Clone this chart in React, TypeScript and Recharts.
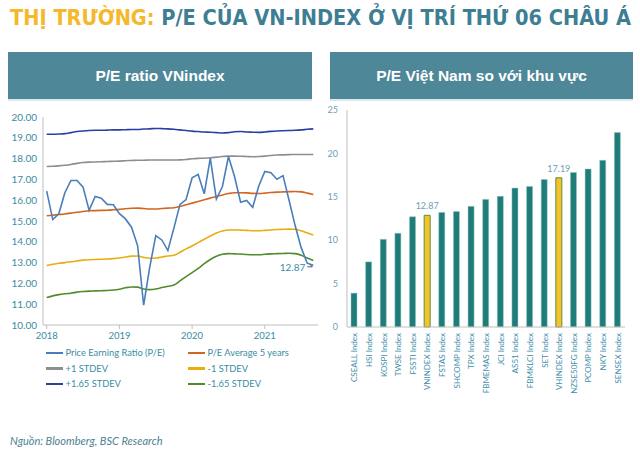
import React from 'react';
import { LineChart, Line, XAxis, YAxis, BarChart, Bar, Cell, LabelList } from 'recharts';

// ---------- Left chart data (monthly, Jan 2018 - Sep 2021) ----------
const months = [
  '2018-01','2018-02','2018-03','2018-04','2018-05','2018-06','2018-07','2018-08','2018-09','2018-10','2018-11','2018-12',
  '2019-01','2019-02','2019-03','2019-04','2019-05','2019-06','2019-07','2019-08','2019-09','2019-10','2019-11','2019-12',
  '2020-01','2020-02','2020-03','2020-04','2020-05','2020-06','2020-07','2020-08','2020-09','2020-10','2020-11','2020-12',
  '2021-01','2021-02','2021-03','2021-04','2021-05','2021-06','2021-07','2021-08','2021-09',
];
const yearTicks = ['2018-01', '2019-01', '2020-01', '2021-01'];
const yearLabels = ['2018', '2019', '2020', '2021'];
const yTicksLeft = [10, 11, 12, 13, 14, 15, 16, 17, 18, 19, 20];

const peRatio = [
  16.44, 15.07, 15.35, 16.36, 16.95, 16.95, 16.63, 15.51, 16.18, 16.10, 15.80, 15.78,
  15.35, 15.10, 14.70, 13.82, 10.95, 12.77, 14.30, 14.09, 13.58, 14.67, 15.80, 16.03,
  17.08, 17.24, 16.31, 18.02, 16.05, 16.66, 18.10, 17.14, 15.90, 15.99, 15.66, 16.68,
  17.38, 17.32, 17.01, 17.18, 16.00, 14.78, 13.72, 12.97, 12.87,
];
const avg5y = [
  15.25, 15.28, 15.31, 15.34, 15.38, 15.42, 15.46, 15.49, 15.50, 15.51, 15.52, 15.54,
  15.56, 15.59, 15.61, 15.62, 15.60, 15.58, 15.58, 15.60, 15.62, 15.64, 15.70, 15.78,
  15.86, 15.94, 16.02, 16.10, 16.18, 16.25, 16.32, 16.36, 16.36, 16.35, 16.33, 16.32,
  16.34, 16.37, 16.39, 16.40, 16.41, 16.42, 16.40, 16.34, 16.27,
];
const plus1 = [
  17.62, 17.63, 17.65, 17.68, 17.72, 17.77, 17.81, 17.83, 17.84, 17.85, 17.86, 17.87,
  17.88, 17.90, 17.91, 17.92, 17.92, 17.93, 17.93, 17.93, 17.93, 17.93, 17.94, 17.96,
  17.99, 18.01, 18.02, 18.04, 18.07, 18.10, 18.12, 18.12, 18.11, 18.10, 18.09, 18.10,
  18.12, 18.15, 18.17, 18.18, 18.19, 18.20, 18.20, 18.20, 18.20,
];
const minus1 = [
  12.86, 12.92, 12.97, 13.00, 13.04, 13.08, 13.12, 13.14, 13.15, 13.16, 13.17, 13.19,
  13.22, 13.27, 13.31, 13.32, 13.25, 13.21, 13.22, 13.27, 13.32, 13.35, 13.50, 13.66,
  13.80, 13.96, 14.12, 14.28, 14.42, 14.52, 14.57, 14.57, 14.56, 14.55, 14.53, 14.53,
  14.55, 14.57, 14.59, 14.60, 14.61, 14.60, 14.53, 14.43, 14.33,
];
const plus165 = [
  19.17, 19.17, 19.18, 19.20, 19.25, 19.30, 19.33, 19.35, 19.36, 19.36, 19.37, 19.38,
  19.38, 19.39, 19.40, 19.40, 19.42, 19.43, 19.45, 19.44, 19.43, 19.41, 19.38, 19.35,
  19.32, 19.30, 19.28, 19.27, 19.25, 19.23, 19.25, 19.29, 19.30, 19.28, 19.27, 19.26,
  19.28, 19.31, 19.33, 19.34, 19.35, 19.36, 19.38, 19.41, 19.43,
];
const minus165 = [
  11.32, 11.40, 11.46, 11.50, 11.53, 11.58, 11.61, 11.63, 11.64, 11.65, 11.66, 11.68,
  11.72, 11.79, 11.83, 11.82, 11.73, 11.70, 11.73, 11.80, 11.86, 11.92, 12.12, 12.33,
  12.52, 12.72, 12.95, 13.15, 13.30, 13.40, 13.43, 13.42, 13.41, 13.39, 13.38, 13.38,
  13.40, 13.42, 13.43, 13.44, 13.45, 13.43, 13.35, 13.22, 13.10,
];

const seriesNames = {
  pe: 'Price Earning Ratio (P/E)',
  avg: 'P/E Average 5 years',
  p1: '+1 STDEV',
  m1: '-1 STDEV',
  p165: '+1.65 STDEV',
  m165: '-1.65 STDEV',
};
const legendOrder = ['pe', 'avg', 'p1', 'm1', 'p165', 'm165'];

// ---------- Right chart data ----------
const indexNames = [
  'CSEALL Index', 'HSI Index', 'KOSPI Index', 'TWSE Index', 'FSSTI Index', 'VNINDEX Index',
  'FSTAS Index', 'SHCOMP Index', 'TPX Index', 'FBMEMAS Index', 'JCI Index', 'AS51 Index',
  'FBMKLCI Index', 'SET Index', 'VHINDEX Index', 'NZSE50FG Index', 'PCOMP Index', 'NKY Index', 'SENSEX Index',
];
const indexPE = [
  3.9, 7.5, 10.1, 10.8, 12.7, 12.87, 13.2, 13.3, 13.9, 14.7, 15.05, 16.0,
  16.2, 17.0, 17.19, 17.8, 18.2, 19.2, 22.4,
];
const highlighted = ['VNINDEX Index', 'VHINDEX Index'];
const yTicksRight = [0, 5, 10, 15, 20, 25];

// ---------- Styles ----------
const COLORS: Record<string, string> = {
  pe: '#4A7EBB',
  avg: '#D2661F',
  p1: '#8E8E8E',
  m1: '#E7AE10',
  p165: '#2B3FA3',
  m165: '#4E8C2C',
};
const TEAL_TEXT = '#3A8CA3';
const AXIS_TEXT_R = '#6F9DB8';
const FONT = 'Lato, "Open Sans", sans-serif';

const lineData = months.map((m, i) => ({
  month: m,
  pe: peRatio[i],
  avg: avg5y[i],
  p1: plus1[i],
  m1: minus1[i],
  p165: plus165[i],
  m165: minus165[i],
}));

const barData = indexNames.map((n, i) => ({ name: n, pe: indexPE[i] }));

const EndLabel = (props: any) => {
  const { x, y, index } = props;
  if (index !== months.length - 1) return null;
  return (
    <g>
      <text x={x - 8} y={y + 6} textAnchor="end" fontSize={10} fontFamily={FONT} fill={TEAL_TEXT}>
        {peRatio[index].toFixed(2)}
      </text>
      <line x1={x - 6} y1={y + 1.5} x2={x - 1} y2={y + 1.5} stroke="#333" strokeWidth={0.8} />
      <path d={`M${x - 3},${y - 0.5} L${x - 1},${y + 1.5}`} stroke="#333" strokeWidth={0.8} fill="none" />
    </g>
  );
};

const RotTick = (props: any) => {
  const { x, y, payload } = props;
  return (
    <text
      x={0}
      y={0}
      transform={`translate(${x + 3},${y}) rotate(-90)`}
      textAnchor="end"
      fontSize={8}
      fontFamily={FONT}
      fill="#3F8FAA"
    >
      {payload.value}
    </text>
  );
};

const BarValueLabel = (props: any) => {
  const { x, y, width, value, index } = props;
  if (!highlighted.includes(indexNames[index])) return null;
  return (
    <text x={x + width / 2} y={y - 6} textAnchor="middle" fontSize={9} fontFamily={FONT} fill={AXIS_TEXT_R}>
      {Number(value).toFixed(2)}
    </text>
  );
};

export default function App() {
  return (
    <div
      style={{
        position: 'fixed',
        left: 0,
        top: 0,
        width: 640,
        height: 463,
        background: '#fff',
        fontFamily: FONT,
        overflow: 'hidden',
      }}
    >
      {/* Title */}
      <svg width={640} height={40} style={{ position: 'absolute', left: 0, top: 0 }}>
        <text
          x={10}
          y={25}
          fontSize={22}
          fontWeight="bold"
          fontFamily='"Liberation Sans Narrow", "DejaVu Sans Condensed", "Arial Narrow", sans-serif'
          textLength={621}
          lengthAdjust="spacingAndGlyphs"
        >
          <tspan fill="#F5B82A">THỊ TRƯỜNG: </tspan>
          <tspan fill="#3D7E93">P/E CỦA VN-INDEX Ở VỊ TRÍ THỨ 06 CHÂU Á</tspan>
        </text>
      </svg>

      {/* Header boxes */}
      {[
        { left: 8, width: 304, text: 'P/E ratio VNindex' },
        { left: 330, width: 303, text: 'P/E Việt Nam so với khu vực' },
      ].map((b) => (
        <div key={b.text}>
          <div
            style={{
              position: 'absolute',
              left: b.left,
              top: 52,
              width: b.width,
              height: 47,
              background: '#4E8898',
              color: '#fff',
              fontFamily: '"Liberation Sans", Arial, sans-serif',
              fontWeight: 'bold',
              fontSize: 15.5,
              display: 'flex',
              alignItems: 'center',
              justifyContent: 'center',
            }}
          >
            {b.text}
          </div>
          <div
            style={{ position: 'absolute', left: b.left, top: 99, width: b.width, height: 2, background: '#DCEAF0' }}
          />
        </div>
      ))}

      {/* Left line chart */}
      <div style={{ position: 'absolute', left: 0, top: 105 }}>
        <LineChart width={330} height={240} data={lineData} margin={{ top: 12, right: 12, bottom: 0, left: 0 }}>
          <XAxis
            dataKey="month"
            scale="point"
            padding={{ left: 3.7, right: 4.7 }}
            ticks={yearTicks}
            tickFormatter={(v: string) => yearLabels[yearTicks.indexOf(v)]}
            interval={0}
            height={20}
            tick={{ fontSize: 9.5, fill: TEAL_TEXT, fontFamily: FONT }}
            axisLine={{ stroke: '#BFBFBF' }}
            tickLine={{ stroke: '#BFBFBF' }}
            tickSize={4}
            tickMargin={3}
          />
          <YAxis
            domain={[10, 20]}
            ticks={yTicksLeft}
            interval={0}
            width={43}
            tickFormatter={(v: number) => v.toFixed(2)}
            tick={{ fontSize: 10, fill: TEAL_TEXT, fontFamily: FONT }}
            axisLine={{ stroke: '#BFBFBF' }}
            tickLine={false}
            tickSize={4}
            tickMargin={2}
          />
          <Line dataKey="p165" type="monotone" stroke={COLORS.p165} strokeWidth={1.6} dot={false} isAnimationActive={false} />
          <Line dataKey="p1" type="monotone" stroke={COLORS.p1} strokeWidth={1.6} dot={false} isAnimationActive={false} />
          <Line dataKey="avg" type="monotone" stroke={COLORS.avg} strokeWidth={1.6} dot={false} isAnimationActive={false} />
          <Line dataKey="m1" type="monotone" stroke={COLORS.m1} strokeWidth={1.6} dot={false} isAnimationActive={false} />
          <Line dataKey="m165" type="monotone" stroke={COLORS.m165} strokeWidth={1.6} dot={false} isAnimationActive={false} />
          <Line
            dataKey="pe"
            type="linear"
            stroke={COLORS.pe}
            strokeWidth={1.6}
            dot={false}
            isAnimationActive={false}
            label={<EndLabel />}
          />
        </LineChart>
      </div>

      {/* Left legend */}
      <div style={{ position: 'absolute', left: 46, top: 345, width: 290 }}>
        {[0, 1, 2].map((row) => (
          <div key={row} style={{ display: 'flex', height: 15.5 }}>
            {legendOrder.slice(row * 2, row * 2 + 2).map((k) => (
              <div key={k} style={{ width: 142, display: 'flex', alignItems: 'center' }}>
                <span
                  style={{ display: 'inline-block', width: 17, height: 2.5, background: COLORS[k], marginRight: 2.5 }}
                />
                <span style={{ fontSize: 9.3, color: TEAL_TEXT, fontFamily: FONT, whiteSpace: 'nowrap' }}>
                  {(seriesNames as any)[k]}
                </span>
              </div>
            ))}
          </div>
        ))}
      </div>

      {/* Right bar chart */}
      <div style={{ position: 'absolute', left: 320, top: 100 }}>
        <BarChart width={320} height={322} data={barData} margin={{ top: 10, right: 15, bottom: 0, left: 0 }}>
          <XAxis
            dataKey="name"
            interval={0}
            height={95}
            tick={<RotTick />}
            axisLine={{ stroke: '#BFBFBF' }}
            tickLine={false}
            tickSize={0}
            tickMargin={6}
          />
          <YAxis
            domain={[0, 25]}
            ticks={yTicksRight}
            interval={0}
            width={27}
            tick={{ fontSize: 9, fill: AXIS_TEXT_R, fontFamily: FONT }}
            axisLine={{ stroke: '#BFBFBF' }}
            tickLine={false}
            tickSize={5}
            tickMargin={4}
          />
          <Bar dataKey="pe" barSize={6} isAnimationActive={false}>
            {barData.map((d) => (
              <Cell
                key={d.name}
                fill={highlighted.includes(d.name) ? '#F5C22B' : '#1F7C79'}
                stroke={highlighted.includes(d.name) ? '#5B8F3B' : '#8FC4C0'}
                strokeWidth={highlighted.includes(d.name) ? 1 : 0.5}
              />
            ))}
            <LabelList dataKey="pe" content={<BarValueLabel />} />
          </Bar>
        </BarChart>
      </div>

      {/* Source */}
      <div
        style={{
          position: 'absolute',
          left: 10,
          top: 434,
          fontSize: 11,
          fontStyle: 'italic',
          color: '#4E7F94',
          fontFamily: FONT,
        }}
      >
        Nguồn: Bloomberg, BSC Research
      </div>
    </div>
  );
}
